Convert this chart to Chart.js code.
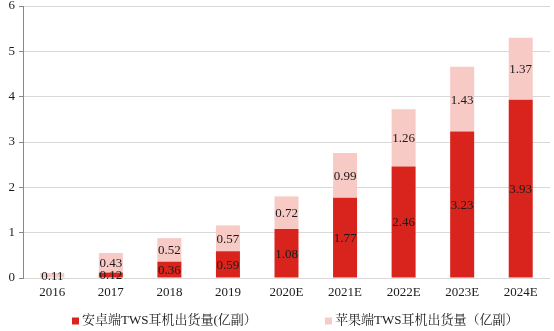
<!DOCTYPE html>
<html><head><meta charset="utf-8">
<script src="https://cdn.jsdelivr.net/npm/chart.js@4/dist/chart.umd.min.js"></script>
<style>html,body{margin:0;padding:0;background:#fff}#wrap{width:554px;height:331px}</style>
</head><body><div id="wrap"><canvas id="c" width="554" height="331"></canvas></div>
<script>
const categories = ['2016','2017','2018','2019','2020E','2021E','2022E','2023E','2024E'];
const androidShipments = [null,0.12,0.36,0.59,1.08,1.77,2.46,3.23,3.93];
const appleShipments = [0.11,0.43,0.52,0.57,0.72,0.99,1.26,1.43,1.37];
const yTicks = [0,1,2,3,4,5,6];
const seriesNames = ['安卓端TWS耳机出货量(亿副）','苹果端TWS耳机出货量（亿副）'];

const FONT = "'Liberation Serif', 'Noto Serif CJK SC', 'Noto Sans CJK SC', serif";

const labelPlugin = {
  id: 'segLabels',
  afterDatasetsDraw(chart) {
    const ctx = chart.ctx;
    ctx.save();
    ctx.font = '13px ' + FONT;
    ctx.fillStyle = '#1a1a1a';
    ctx.textAlign = 'center';
    ctx.textBaseline = 'middle';
    chart.data.datasets.forEach((ds, di) => {
      const meta = chart.getDatasetMeta(di);
      meta.data.forEach((bar, i) => {
        const v = ds.data[i];
        if (v === null || v === undefined) return;
        const y = (bar.y + bar.base) / 2;
        ctx.fillText(v.toFixed(2), bar.x, y + 1);
      });
    });
    ctx.restore();
  }
};

const legendPlugin = {
  id: 'customLegend',
  afterDraw(chart) {
    const ctx = chart.ctx;
    const starts = [72, 325];
    const cy = 321;
    ctx.save();
    ctx.font = '13px ' + FONT;
    ctx.textBaseline = 'middle';
    ctx.textAlign = 'left';
    chart.data.datasets.forEach((ds, i) => {
      const x = starts[i];
      ctx.fillStyle = ds.backgroundColor;
      ctx.fillRect(x, cy - 3.5, 7, 7);
      ctx.fillStyle = '#1a1a1a';
      ctx.fillText(ds.label, x + 10, cy);
    });
    ctx.restore();
  }
};

new Chart(document.getElementById('c'), {
  type: 'bar',
  data: {
    labels: categories,
    datasets: [
      { label: seriesNames[0], data: androidShipments, backgroundColor: '#d9241d', barPercentage: 0.41, categoryPercentage: 1 },
      { label: seriesNames[1], data: appleShipments, backgroundColor: '#f8cac6', barPercentage: 0.41, categoryPercentage: 1 }
    ]
  },
  options: {
    responsive: false,
    animation: false,
    devicePixelRatio: 1,
    layout: { padding: { top: 6, left: 0, right: 4, bottom: 29 } },
    plugins: {
      legend: { display: false },
      tooltip: { enabled: false }
    },
    scales: {
      x: {
        stacked: true,
        grid: { display: false, drawTicks: false },
        border: { display: false },
        afterFit(axis) { axis.height = 24; },
        ticks: { font: { family: FONT, size: 13 }, color: '#1a1a1a', padding: 7 }
      },
      y: {
        stacked: true,
        min: 0, max: 6,
        afterBuildTicks(axis) { axis.ticks = yTicks.map(v => ({ value: v })); },
        afterFit(axis) { axis.width = 23; axis.paddingTop = 0; axis.paddingBottom = 0; },
        grid: { color: '#d9d9d9', lineWidth: 1, tickLength: 4, tickColor: '#888' },
        border: { display: true, color: '#888' },
        ticks: { font: { family: FONT, size: 13 }, color: '#1a1a1a', padding: 4 }
      }
    }
  },
  plugins: [labelPlugin, legendPlugin]
});
</script></body></html>
